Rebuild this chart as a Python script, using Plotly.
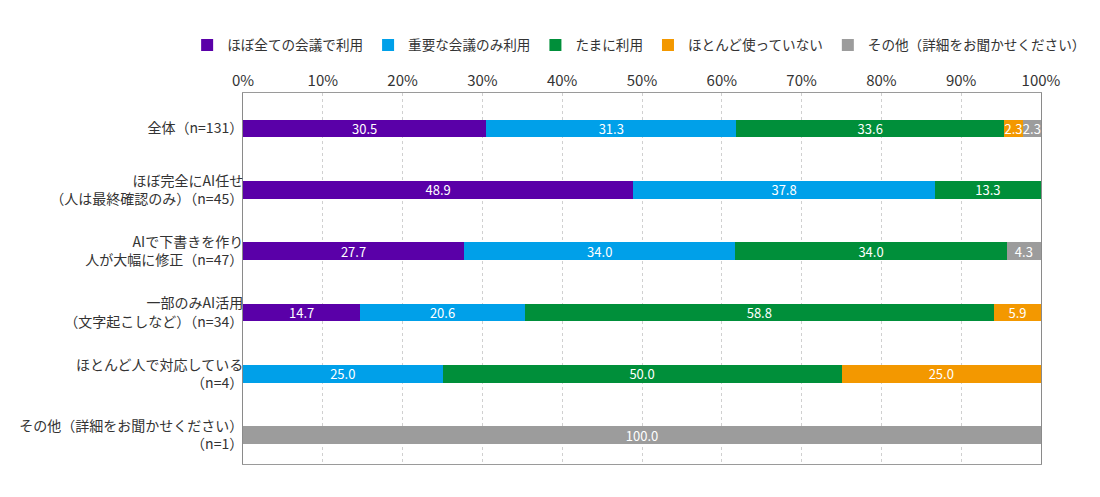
import plotly.graph_objects as go

categories = [
    "全体（n=131）",
    "ほぼ完全にAI任せ<br>（人は最終確認のみ）（n=45）",
    "AIで下書きを作り<br>人が大幅に修正（n=47）",
    "一部のみAI活用<br>（文字起こしなど）（n=34）",
    "ほとんど人で対応している<br>（n=4）",
    "その他（詳細をお聞かせください）<br>（n=1）",
]

series_names = [
    "ほぼ全ての会議で利用",
    "重要な会議のみ利用",
    "たまに利用",
    "ほとんど使っていない",
    "その他（詳細をお聞かせください）",
]

all_meetings = [30.5, 48.9, 27.7, 14.7, 0, 0]
important_only = [31.3, 37.8, 34.0, 20.6, 25.0, 0]
sometimes = [33.6, 13.3, 34.0, 58.8, 50.0, 0]
rarely = [2.3, 0, 0, 5.9, 25.0, 0]
other = [2.3, 0, 4.3, 0, 0, 100.0]

colors = ["#5a00a8", "#00a0e9", "#008f3a", "#f39800", "#9c9c9c"]

fig = go.Figure()
for name, vals, col in zip(series_names, [all_meetings, important_only, sometimes, rarely, other], colors):
    fig.add_trace(go.Bar(
        y=categories, x=vals, name=name, orientation="h",
        marker_color=col, marker_line_width=0,
        text=[f"{v:.1f}" if v else "" for v in vals],
        textposition="inside", insidetextanchor="middle", textangle=0,
        textfont=dict(color="white", size=13),
        constraintext="none",
        hoverinfo="x+name",
    ))

# page body has an 8px margin, so the figure is a bit smaller than the window
fig.update_layout(
    barmode="stack",
    bargap=0.71,
    width=1092, height=489,
    margin=dict(l=235, r=59, t=85, b=33),
    plot_bgcolor="white", paper_bgcolor="white",
    font=dict(family="Noto Sans CJK JP", color="#333333", size=14),
    uniformtext=dict(minsize=13, mode="show"),
    # legend anchored left of the plot so it gets the full width for one row
    legend=dict(orientation="h", x=-0.070, xanchor="left", y=1.129, yanchor="middle",
                font=dict(size=13.6), traceorder="normal", itemwidth=30),
    showlegend=True,
)

#X axis
fig.update_xaxes(side="top", range=[0, 100], tick0=0, dtick=10, ticksuffix="%",
                 showgrid=True, gridcolor="#d0d0d0", griddash="dot",
                 showline=True, linecolor="#9a9a9a", mirror=True, automargin=False,
                 tickfont=dict(size=15), zeroline=False, ticks="")
#Y axis (reversed, a bit more room above the first bar)
fig.update_yaxes(range=[5.47, -0.58], showline=True, linecolor="#8a8a8a", mirror=True,
                 automargin=False,
                 tickfont=dict(size=14), ticks="", ticklabelstandoff=-4)

fig.write_html("out.html")
